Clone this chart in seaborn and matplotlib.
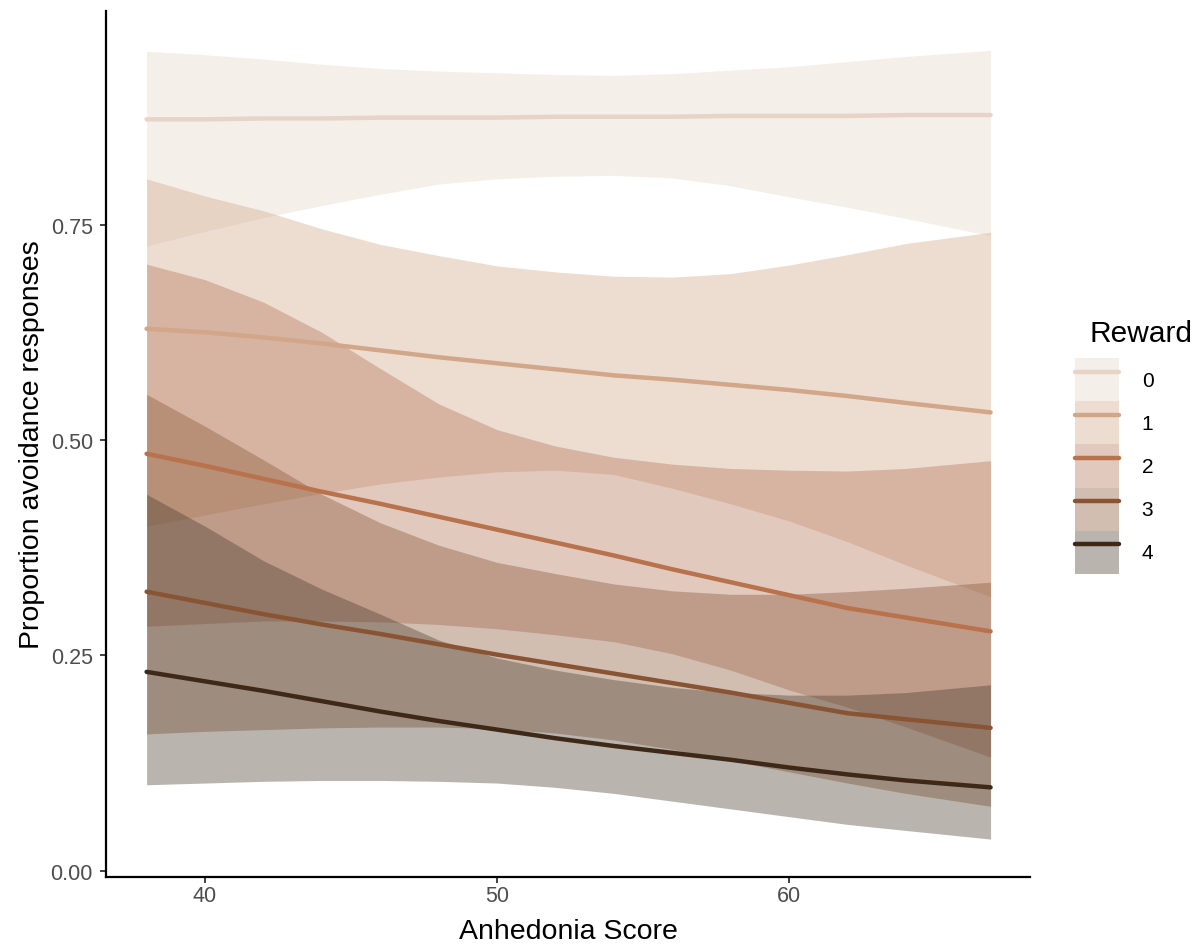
import matplotlib
matplotlib.use("Agg")
import matplotlib.pyplot as plt
from matplotlib.patches import Patch
from matplotlib.lines import Line2D
import pandas as pd
import seaborn as sns

# Anhedonia scores at which the model predictions are shown
anhedonia = [38, 40, 42, 44, 46, 48, 50, 52, 54, 56, 58, 60, 62, 64, 66.9]

# Reward levels
rewards = ["0", "1", "2", "3", "4"]

# Predicted proportion of avoidance responses per reward level
fit_0 = [0.872, 0.872, 0.873, 0.873, 0.874, 0.874, 0.874, 0.875, 0.875, 0.875, 0.876, 0.876, 0.876, 0.877, 0.877]
fit_1 = [0.629, 0.625, 0.619, 0.612, 0.604, 0.596, 0.589, 0.582, 0.575, 0.570, 0.564, 0.558, 0.551, 0.543, 0.532]
fit_2 = [0.484, 0.470, 0.455, 0.440, 0.426, 0.411, 0.396, 0.381, 0.366, 0.350, 0.335, 0.320, 0.305, 0.294, 0.278]
fit_3 = [0.324, 0.311, 0.298, 0.286, 0.275, 0.263, 0.251, 0.240, 0.229, 0.218, 0.207, 0.195, 0.183, 0.176, 0.166]
fit_4 = [0.231, 0.220, 0.209, 0.197, 0.185, 0.174, 0.164, 0.154, 0.145, 0.137, 0.129, 0.120, 0.112, 0.105, 0.097]

# Confidence band limits
upper_0 = [0.951, 0.947, 0.942, 0.936, 0.931, 0.928, 0.926, 0.924, 0.923, 0.925, 0.929, 0.933, 0.939, 0.945, 0.952]
lower_0 = [0.725, 0.742, 0.758, 0.772, 0.785, 0.797, 0.803, 0.806, 0.807, 0.804, 0.795, 0.782, 0.770, 0.757, 0.737]
upper_1 = [0.803, 0.783, 0.766, 0.745, 0.727, 0.714, 0.702, 0.695, 0.690, 0.689, 0.693, 0.703, 0.715, 0.728, 0.741]
lower_1 = [0.400, 0.413, 0.426, 0.438, 0.449, 0.457, 0.463, 0.465, 0.460, 0.444, 0.426, 0.406, 0.382, 0.355, 0.318]
upper_2 = [0.704, 0.686, 0.660, 0.625, 0.583, 0.542, 0.512, 0.493, 0.480, 0.472, 0.467, 0.465, 0.464, 0.467, 0.476]
lower_2 = [0.284, 0.287, 0.290, 0.290, 0.289, 0.286, 0.281, 0.274, 0.266, 0.252, 0.233, 0.210, 0.190, 0.167, 0.132]
upper_3 = [0.553, 0.516, 0.477, 0.437, 0.404, 0.378, 0.358, 0.345, 0.333, 0.325, 0.321, 0.321, 0.324, 0.328, 0.335]
lower_3 = [0.159, 0.162, 0.164, 0.166, 0.167, 0.167, 0.165, 0.160, 0.152, 0.141, 0.128, 0.115, 0.102, 0.090, 0.075]
upper_4 = [0.437, 0.400, 0.360, 0.327, 0.298, 0.268, 0.247, 0.233, 0.222, 0.213, 0.207, 0.204, 0.204, 0.207, 0.216]
lower_4 = [0.100, 0.102, 0.104, 0.105, 0.105, 0.104, 0.102, 0.097, 0.090, 0.081, 0.072, 0.063, 0.054, 0.047, 0.037]

fits = [fit_0, fit_1, fit_2, fit_3, fit_4]
uppers = [upper_0, upper_1, upper_2, upper_3, upper_4]
lowers = [lower_0, lower_1, lower_2, lower_3, lower_4]

line_colors = ["#E8D3C8", "#D2A688", "#B8724C", "#895434", "#3E2919"]
band_colors = ["#E4D5C3", "#D2A688", "#B27355", "#895434", "#4A3C2D"]
band_alpha = 0.38
line_w = 3.2

frames = []
for r, f, u, l in zip(rewards, fits, uppers, lowers):
    frames.append(pd.DataFrame({"Anhedonia": anhedonia, "Reward": r,
                                "fit": f, "upper": u, "lower": l}))
df = pd.concat(frames, ignore_index=True)

sns.set_theme(style="white")
plt.rcParams["font.family"] = ["Liberation Sans", "DejaVu Sans"]

fig = plt.figure(figsize=(12, 9.45), dpi=100)
ax = fig.add_axes([106 / 1200, 1 - 878 / 945, (1030 - 106) / 1200, (878 - 12) / 945])

# each reward level: band first, then its fitted line on top
for r, lc, bc in zip(rewards, line_colors, band_colors):
    sub = df[df["Reward"] == r]
    ax.fill_between(sub["Anhedonia"], sub["lower"], sub["upper"],
                    color=bc, alpha=band_alpha, linewidth=0)
    sns.lineplot(data=sub, x="Anhedonia", y="fit", color=lc, linewidth=line_w,
                 errorbar=None, legend=False, ax=ax)

ax.set_xlim(36.61, 68.25)
ax.set_ylim(-0.007, 0.9977)
ax.set_xticks([40, 50, 60])
ax.set_yticks([0, 0.25, 0.5, 0.75])
ax.set_yticklabels(["0.00", "0.25", "0.50", "0.75"])

for side in ["top", "right"]:
    ax.spines[side].set_visible(False)
for side in ["left", "bottom"]:
    ax.spines[side].set_color("black")
    ax.spines[side].set_linewidth(1.6)

ax.tick_params(axis="both", which="major", length=4.5, width=1.3, color="#333333",
               labelsize=15.5, labelcolor="#4D4D4D", left=True, bottom=True)
ax.tick_params(axis="y", pad=5)
ax.tick_params(axis="x", pad=1)

ax.set_xlabel("Anhedonia Score", fontsize=20.5, color="black", labelpad=9)
ax.set_ylabel("Proportion avoidance responses", fontsize=20.5, color="black", labelpad=4)

# legend keys: translucent band swatch with the fitted line across it
handles = [(Patch(facecolor=bc, alpha=band_alpha, edgecolor="none"),
            Line2D([], [], color=lc, linewidth=line_w))
           for lc, bc in zip(line_colors, band_colors)]
leg = fig.legend(handles, rewards, loc="center left",
                 bbox_to_anchor=(1075 / 1200, 1 - 467 / 945), frameon=False,
                 fontsize=15, labelspacing=0,
                 handlelength=2.1, handleheight=2.8, handletextpad=1.1,
                 borderpad=0, borderaxespad=0)
for t in leg.get_texts():
    t.set_color("black")
fig.text(1089 / 1200, 1 - 334 / 945, "Reward", fontsize=21.5, color="black",
         ha="left", va="center")

fig.savefig("out.png", dpi=100)
